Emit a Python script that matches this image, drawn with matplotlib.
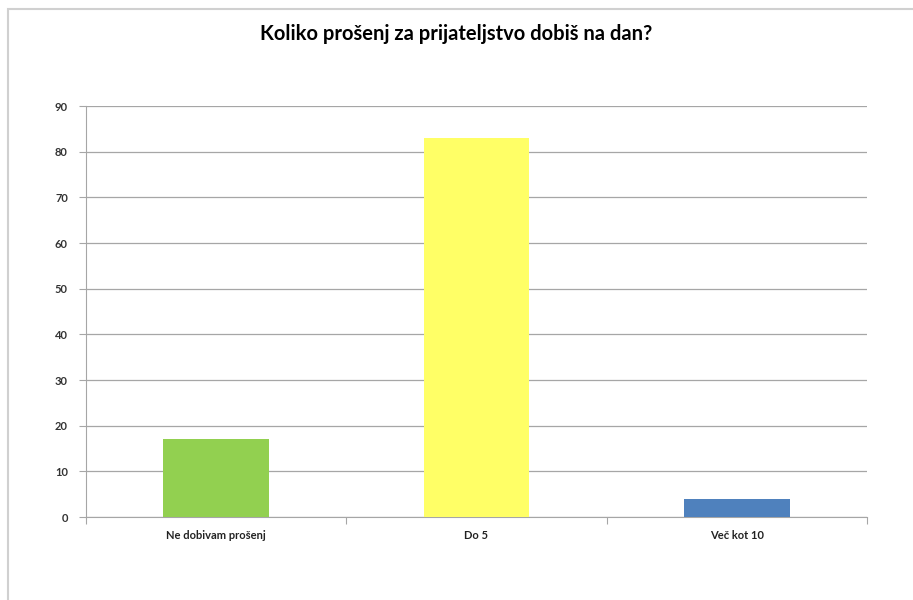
import matplotlib.pyplot as plt
from matplotlib.patches import Rectangle

categories = ["Ne dobivam prošenj", "Do 5", "Več kot 10"]
values = [17, 83, 4]
colors = ["#92d050", "#ffff66", "#4f81bd"]
yticks = [0, 10, 20, 30, 40, 50, 60, 70, 80, 90]

plt.rcParams['font.family'] = ['Lato', 'DejaVu Sans']

fig = plt.figure(figsize=(9.13, 6.0), dpi=100)
ax = fig.add_axes([0.0942, 0.1383, 0.8554, 0.685])

# outer chart frame
fig.patches.append(Rectangle((8 / 913, -0.1), 1.2, 1.1 - 9 / 600,
                             transform=fig.transFigure, fill=False,
                             edgecolor="#d0d0d0", linewidth=1.5))

x = range(len(categories))
ax.bar(x, values, width=0.405, color=colors, zorder=3)

ax.set_xlim(-0.5, 2.5)
ax.set_ylim(0, 90)
ax.set_yticks(yticks)
ax.set_yticklabels([str(v) for v in yticks], fontsize=8, fontweight="bold", color="#333333")
ax.yaxis.grid(True, color="#a6a6a6", linewidth=0.9, zorder=0)

ax.set_xticks([-0.5, 0.5, 1.5, 2.5])
ax.set_xticklabels([])
ax.set_xticks(list(x), minor=True)
ax.set_xticklabels(categories, minor=True, fontsize=8, fontweight="bold", color="#222222")
ax.tick_params(axis="x", which="minor", length=0, pad=9)
ax.tick_params(axis="x", which="major", length=5, color="#a6a6a6")
ax.tick_params(axis="y", length=5, color="#a6a6a6", pad=8)

for side in ["top", "right"]:
    ax.spines[side].set_visible(False)
ax.spines["left"].set_color("#a6a6a6")
ax.spines["bottom"].set_color("#a6a6a6")

fig.text(0.5, 1 - 34 / 600, "Koliko prošenj za prijateljstvo dobiš na dan?",
         ha="center", va="center", fontsize=14.5, fontweight="bold")

fig.savefig("out.png", dpi=100)
